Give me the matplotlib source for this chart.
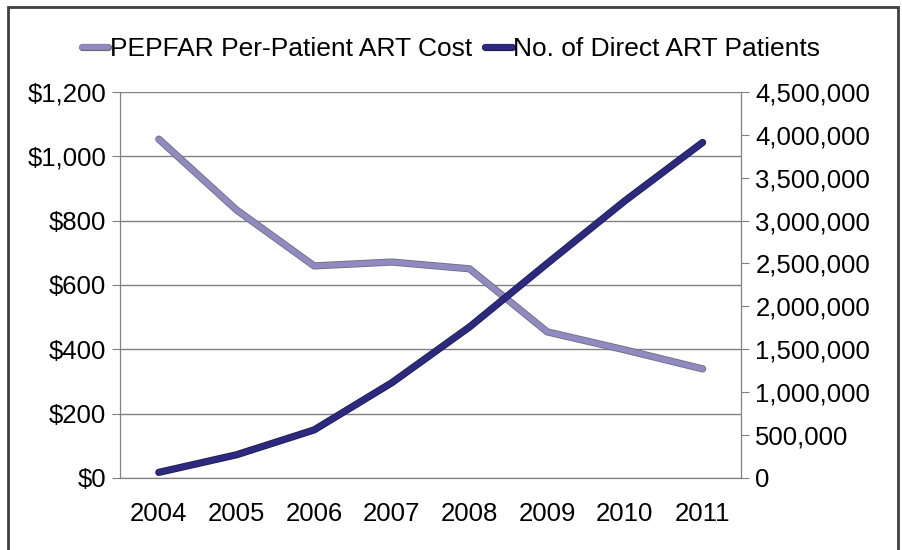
import matplotlib
matplotlib.use("Agg")
import matplotlib.pyplot as plt
import matplotlib.patheffects as pe
from matplotlib.ticker import FuncFormatter, MultipleLocator
from matplotlib.patches import Rectangle

years = ["2004", "2005", "2006", "2007", "2008", "2009", "2010", "2011"]
cost = [1053, 833, 659, 671, 650, 454, 398, 339]
patients = [65000, 270000, 560000, 1110000, 1760000, 2500000, 3230000, 3910000]

light = "#908ac0"
dark = "#2c2a80"

plt.rcParams["font.family"] = ["Liberation Sans", "DejaVu Sans"]

fig = plt.figure(figsize=(9.02, 5.5), dpi=100)
ax = fig.add_axes([0.133, 0.131, 0.689, 0.702])
ax2 = ax.twinx()

x = list(range(len(years)))
l1, = ax.plot(x, cost, color=light, lw=4, solid_capstyle="round", solid_joinstyle="round",
              path_effects=[pe.Stroke(linewidth=5.2, foreground="#6d6d80"), pe.Normal()],
              label="PEPFAR Per-Patient ART Cost")
l2, = ax2.plot(x, patients, color=dark, lw=4, solid_capstyle="round", solid_joinstyle="round",
               path_effects=[pe.Stroke(linewidth=5.2, foreground="#1c1c50"), pe.Normal()],
               label="No. of Direct ART Patients")

ax.set_xlim(-0.5, len(years) - 0.5)
ax.set_ylim(0, 1200)
ax2.set_ylim(0, 4500000)
ax.yaxis.set_major_locator(MultipleLocator(200))
ax2.yaxis.set_major_locator(MultipleLocator(500000))
ax.yaxis.set_major_formatter(FuncFormatter(lambda v, p: "${:,.0f}".format(v)))
ax2.yaxis.set_major_formatter(FuncFormatter(lambda v, p: "{:,.0f}".format(v)))
ax.set_xticks(x)
ax.set_xticklabels(years)

ax.grid(axis="y", color="#808080", lw=1)
ax.set_axisbelow(True)
for a in (ax, ax2):
    a.spines["top"].set_visible(False)
    a.spines["left"].set_color("#808080")
    a.spines["right"].set_color("#808080")
    a.spines["bottom"].set_color("#808080")
ax.tick_params(axis="y", length=6, color="#808080", labelsize=18.5, pad=4)
ax2.tick_params(axis="y", length=6, color="#808080", labelsize=18.5, pad=4)
ax.tick_params(axis="x", length=0, labelsize=18.5, pad=17)

fig.legend(handles=[l1, l2], loc="center", bbox_to_anchor=(0.5, 0.91), ncol=2,
           frameon=False, fontsize=19, handlelength=1.0, handletextpad=0.05,
           columnspacing=0.5)

fig.patches.append(Rectangle((0.009, -0.01), 0.987, 0.997, transform=fig.transFigure,
                             fill=False, edgecolor="#404040", lw=2))

fig.savefig("out.png", dpi=100)
